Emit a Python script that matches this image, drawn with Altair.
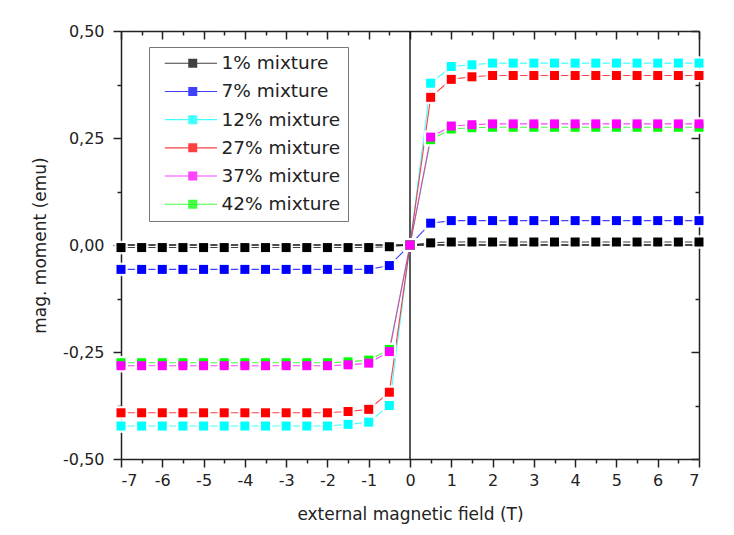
import altair as alt
import pandas as pd

# ---- data ----
field_T = [-7, -6.5, -6, -5.5, -5, -4.5, -4, -3.5, -3, -2.5, -2, -1.5, -1, -0.5, 0,
           0.5, 1, 1.5, 2, 2.5, 3, 3.5, 4, 4.5, 5, 5.5, 6, 6.5, 7]

m_1 = [-0.006, -0.006, -0.006, -0.006, -0.006, -0.006, -0.006, -0.006, -0.006, -0.006, -0.006, -0.006, -0.006, -0.004, 0.0,
       0.005, 0.007, 0.007, 0.007, 0.007, 0.007, 0.007, 0.007, 0.007, 0.007, 0.007, 0.007, 0.007, 0.007]
m_7 = [-0.057, -0.057, -0.057, -0.057, -0.057, -0.057, -0.057, -0.057, -0.057, -0.057, -0.057, -0.057, -0.057, -0.048, 0.0,
       0.051, 0.057, 0.057, 0.057, 0.057, 0.057, 0.057, 0.057, 0.057, 0.057, 0.057, 0.057, 0.057, 0.057]
m_12 = [-0.423, -0.423, -0.423, -0.423, -0.423, -0.423, -0.423, -0.423, -0.423, -0.423, -0.423, -0.419, -0.414, -0.375, 0.0,
        0.378, 0.417, 0.421, 0.425, 0.425, 0.425, 0.425, 0.425, 0.425, 0.425, 0.425, 0.425, 0.425, 0.425]
m_27 = [-0.392, -0.392, -0.392, -0.392, -0.392, -0.392, -0.392, -0.392, -0.392, -0.392, -0.392, -0.389, -0.384, -0.344, 0.0,
        0.345, 0.387, 0.393, 0.396, 0.396, 0.396, 0.396, 0.396, 0.396, 0.396, 0.396, 0.396, 0.396, 0.396]
m_37 = [-0.282, -0.282, -0.282, -0.282, -0.282, -0.282, -0.282, -0.282, -0.282, -0.282, -0.282, -0.280, -0.276, -0.249, 0.0,
        0.252, 0.278, 0.281, 0.283, 0.283, 0.283, 0.283, 0.283, 0.283, 0.283, 0.283, 0.283, 0.283, 0.283]
m_42 = [-0.275, -0.275, -0.275, -0.275, -0.275, -0.275, -0.275, -0.275, -0.275, -0.275, -0.275, -0.273, -0.269, -0.244, 0.0,
        0.246, 0.271, 0.274, 0.275, 0.275, 0.275, 0.275, 0.275, 0.275, 0.275, 0.275, 0.275, 0.275, 0.275]

series_names = ["1% mixture", "7% mixture", "12% mixture", "27% mixture", "37% mixture", "42% mixture"]
series_colors = ["#000000", "#0000ff", "#00ffff", "#ff0000", "#ff00ff", "#00ff00"]
series_values = {"1% mixture": m_1, "7% mixture": m_7, "12% mixture": m_12,
                 "27% mixture": m_27, "37% mixture": m_37, "42% mixture": m_42}
draw_order = ["1% mixture", "7% mixture", "12% mixture", "27% mixture", "42% mixture", "37% mixture"]

x_major = [-7, -6, -5, -4, -3, -2, -1, 0, 1, 2, 3, 4, 5, 6, 7]
x_minor = [-6.5, -5.5, -4.5, -3.5, -2.5, -1.5, -0.5, 0.5, 1.5, 2.5, 3.5, 4.5, 5.5, 6.5]
y_major = [-0.5, -0.25, 0.0, 0.25, 0.5]
y_minor = [-0.375, -0.125, 0.125, 0.375]

hex_of = dict(zip(series_names, series_colors))
rows = []
for k, name in enumerate(draw_order):
    for xv, yv in zip(field_T, series_values[name]):
        rows.append({"field": xv, "moment": yv, "series": name, "hex": hex_of[name], "z": k})
df = pd.DataFrame(rows)

vline_df = pd.DataFrame({"x": [0], "y1": [-0.5], "y2": [0.5]})
hline_df = pd.DataFrame({"x1": [-7], "x2": [7], "y": [0]})

W, H = 578, 428
FONT = "DejaVu Sans"
INK = "#222222"

xs = alt.Scale(domain=[-7, 7], nice=False, zero=False)
ys = alt.Scale(domain=[-0.5, 0.5], nice=False, zero=False)

x_lab = "datum.value < 0 ? '-' + format(-datum.value, 'd') : format(datum.value, 'd')"
y_lab = "(datum.value < 0 ? '-' : '') + replace(format(abs(datum.value), '.2f'), '.', ',')"

ax_x_main = alt.Axis(orient="bottom", values=x_major, tickSize=8, labelExpr=x_lab, labelPadding=5,
                     title="external magnetic field (T)", titlePadding=18, domain=True)
ax_x_minor = alt.Axis(orient="bottom", values=x_minor, tickSize=4, labels=False, domain=False, title=None)
ax_x_top_major = alt.Axis(orient="bottom", offset=-H, values=x_major, tickSize=8, labels=False,
                          domain=True, title=None)
ax_x_top_minor = alt.Axis(orient="bottom", offset=-H, values=x_minor, tickSize=4, labels=False,
                          domain=False, title=None)

ax_y_main = alt.Axis(orient="left", values=y_major, tickSize=8, labelExpr=y_lab, labelPadding=9,
                     title="mag. moment (emu)", titlePadding=13, domain=True)
ax_y_minor = alt.Axis(orient="left", values=y_minor, tickSize=4, labels=False, domain=False, title=None)
ax_y_right_major = alt.Axis(orient="left", offset=-W, values=y_major, tickSize=8, labels=False,
                            domain=True, title=None)
ax_y_right_minor = alt.Axis(orient="left", offset=-W, values=y_minor, tickSize=4, labels=False,
                            domain=False, title=None)

vrule = alt.Chart(vline_df).mark_rule(color="#111111", strokeWidth=1.4).encode(
    x=alt.X("x:Q", scale=xs, axis=ax_x_main),
    y=alt.Y("y1:Q", scale=ys, axis=ax_y_main),
    y2="y2:Q",
)
hrule = alt.Chart(hline_df).mark_rule(color="#111111", strokeWidth=1.4).encode(
    x=alt.X("x1:Q", scale=xs, axis=ax_x_minor),
    x2="x2:Q",
    y=alt.Y("y:Q", scale=ys, axis=ax_y_minor),
)

# connecting lines: coloured straight from the hex column (no scale, so no legend)
lines = alt.Chart(df).mark_line(strokeWidth=1.1, opacity=0.75).encode(
    x=alt.X("field:Q", scale=xs, axis=ax_x_top_major),
    y=alt.Y("moment:Q", scale=ys, axis=ax_y_right_major),
    color=alt.Color("hex:N", scale=None),
    detail="series:N",
)

# white halo under every marker (gives the broken-line look between markers)
halos = alt.Chart(df).mark_point(shape="square", filled=True, size=185, color="white",
                                 opacity=0.9).encode(
    x=alt.X("field:Q", scale=xs, axis=ax_x_top_minor),
    y=alt.Y("moment:Q", scale=ys, axis=ax_y_right_minor),
)

# legend symbol: thin line - square - thin line (all filled shapes)
sym_path = ("M-0.11,-0.12L5.11,-0.12L5.11,0.12L-0.11,0.12Z "
            "M7.11,-0.12L11.5,-0.12L11.5,0.12L7.11,0.12Z "
            "M5.11,-1L7.11,-1L7.11,1L5.11,1Z")

legend = alt.Legend(
    orient="none", legendX=28, legendY=16, title=None,
    symbolType=sym_path, symbolSize=81, symbolStrokeWidth=0, symbolOpacity=1,
    labelFont=FONT, labelFontSize=18.5, labelColor=INK,
    strokeColor="#777777", fillColor="white", padding=7, rowPadding=9.2,
    labelOffset=47,
)

points = alt.Chart(df).mark_point(shape="square", filled=True, size=81, opacity=1).encode(
    x=alt.X("field:Q", scale=xs, axis=None),
    y=alt.Y("moment:Q", scale=ys, axis=None),
    color=alt.Color("series:N", scale=alt.Scale(domain=series_names, range=series_colors),
                    legend=legend),
    order=alt.Order("z:Q"),
)

chart = alt.layer(vrule, hrule, lines, halos, points).resolve_axis(
    x="independent", y="independent"
).properties(
    width=W, height=H,
    autosize=alt.AutoSizeParams(type="none"),
    padding={"left": 113, "top": 23, "right": 20, "bottom": 76},
    background="white",
).configure_view(stroke=None).configure_axis(
    grid=False, tickColor=INK, domainColor=INK, tickWidth=1.5, domainWidth=1.5,
    labelFont=FONT, labelFontSize=16, labelColor=INK,
    titleFont=FONT, titleFontSize=17, titleColor=INK, titleFontWeight="normal",
)

chart.save("out.html", embed_options={"renderer": "svg", "actions": False})
